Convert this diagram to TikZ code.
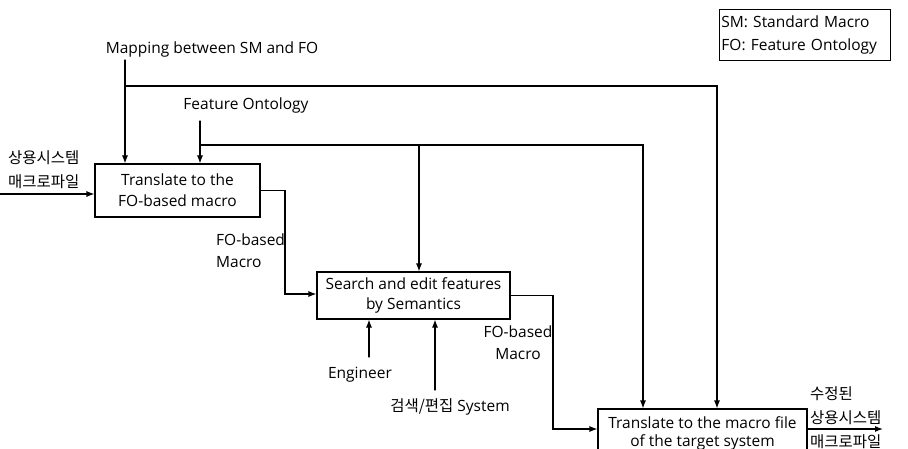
\documentclass[tikz,border=0pt]{standalone}
\usepackage{fontspec}
\setmainfont{Open Sans}
\newfontfamily\kor{Noto Sans CJK KR}
\usetikzlibrary{arrows.meta,positioning}

\tikzset{
  procbox/.style={draw,line width=1.1pt,align=center,inner sep=0pt},
  flow/.style={->,line width=1.1pt},
  kortext/.style={font=\kor\fontsize{15.5}{24}\selectfont,align=left,inner sep=0pt}
}

\begin{document}
\begin{tikzpicture}[x=1pt,y=-1pt,>={Latex[length=8pt,width=6pt]},line cap=round,
    font=\fontsize{15.5}{21}\selectfont]
  \useasboundingbox (0,0) rectangle (908,449);

  % legend
  \node[draw,line width=.9pt,align=left,anchor=north west,minimum width=171,
        minimum height=51,text width=167,inner sep=2pt,
        font=\fontsize{15.5}{23}\selectfont] (legend) at (719,9)
        {SM: Standard Macro\\FO: Feature Ontology};

  % process boxes
  \node[procbox,minimum width=165,minimum height=53] (tr1) at (177.5,190.5)
        {Translate to the\\FO-based macro};
  \node[procbox,minimum width=193,minimum height=47,
        font=\fontsize{15.5}{20}\selectfont] (tr2) at (413.5,295.5)
        {Search and edit features\\by Semantics};
  \node[procbox,minimum width=209,minimum height=48,
        font=\fontsize{15.5}{18}\selectfont] (tr3) at (702.5,433)
        {Translate to the macro file\\of the target system};

  % labels
  \node (mapl) at (212,49) {Mapping between SM and FO};
  \node (fol) at (246,105) {Feature Ontology};
  \node[align=left,anchor=west,inner sep=0pt,
        font=\fontsize{15.5}{22}\selectfont] (fom1) at (216,251) {FO-based\\Macro};
  \node[align=center,font=\fontsize{15.5}{22}\selectfont] (fom2) at (518,343) {FO-based\\Macro};
  \node (eng) at (360,375) {Engineer};
  \node (sys) at (450,407) {{\kor 검색/편집} System};
  \node[kortext,anchor=west] (kin) at (8,170) {상용시스템\\매크로파일};
  \node[kortext,anchor=west] (kout) at (810,418) {수정된\\상용시스템\\매크로파일};

  % bend points and free ends
  \coordinate (m0) at (125,60);
  \coordinate (m1) at (717,86);
  \coordinate (f0) at (200,121);
  \coordinate (f1) at (643,145);
  \coordinate (f2) at (419,145);
  \coordinate (in0) at (0,194);
  \coordinate (b1) at (285,294);
  \coordinate (b2) at (553,429);
  \coordinate (out0) at (883,429);
  \coordinate (e0) at (369,357);
  \coordinate (s0) at (435,390);

  % connectors
  \draw[flow] (m0) -- (m0 |- tr1.north);
  \draw[flow] (m0 |- m1) -- (m1) -- (m1 |- tr3.north);
  \draw[flow] (f0) -- (f0 |- tr1.north);
  \draw[flow] (f0 |- f1) -- (f1) -- (f1 |- tr3.north);
  \draw[flow] (f2) -- (f2 |- tr2.north);
  \draw[flow] (in0) -- (in0 -| tr1.west);
  \draw[flow] (tr1.east) -| (b1) -- (b1 -| tr2.west);
  \draw[flow] (tr2.east) -| (b2) -- (b2 -| tr3.west);
  \draw[flow] (b2 -| tr3.east) -- (out0);
  \draw[flow] (e0) -- (e0 |- tr2.south);
  \draw[flow] (s0) -- (s0 |- tr2.south);
\end{tikzpicture}
\end{document}
